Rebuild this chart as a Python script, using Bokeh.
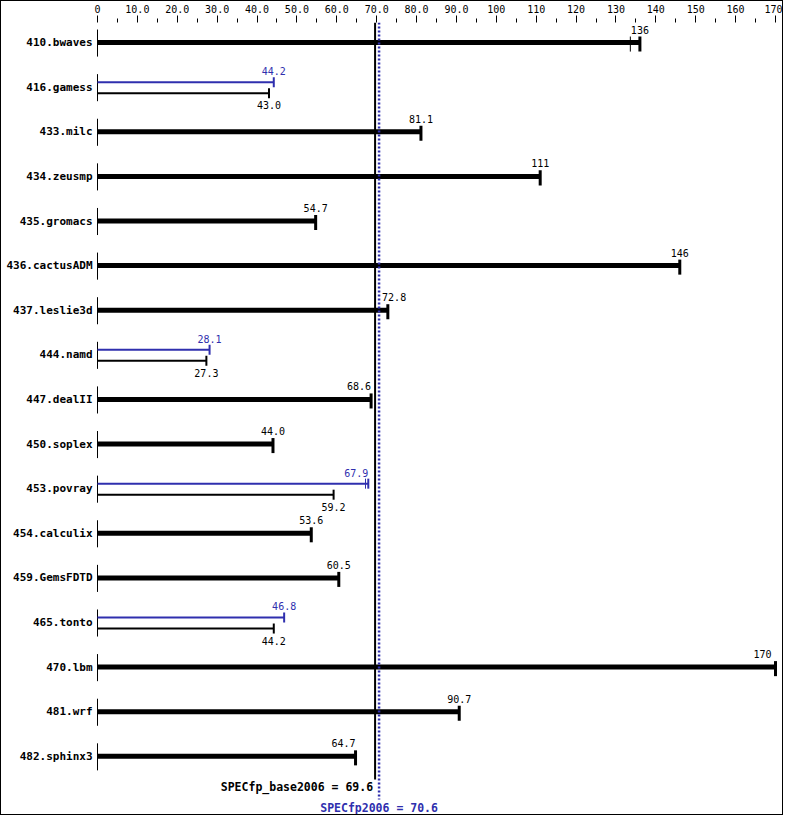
from bokeh.plotting import figure
from bokeh.models import Range1d, LinearAxis, FixedTicker, ColumnDataSource
from bokeh.core.properties import value
from bokeh.embed import file_html
from bokeh.resources import INLINE

# ---------------- data ----------------
benchmarks = ["410.bwaves", "416.gamess", "433.milc", "434.zeusmp", "435.gromacs",
              "436.cactusADM", "437.leslie3d", "444.namd", "447.dealII", "450.soplex",
              "453.povray", "454.calculix", "459.GemsFDTD", "465.tonto", "470.lbm",
              "481.wrf", "482.sphinx3"]
base_ratio = [136, 43.0, 81.1, 111, 54.7, 146, 72.8, 27.3, 68.6, 44.0,
              59.2, 53.6, 60.5, 44.2, 170, 90.7, 64.7]
peak_ratio = [136, 44.2, 81.1, 111, 54.7, 146, 72.8, 28.1, 68.6, 44.0,
              67.9, 53.6, 60.5, 46.8, 170, 90.7, 64.7]
# other (non-median) run results visible as thin ticks
extra_base_bench = ["410.bwaves"]
extra_base_val = [133.6]
extra_peak_bench = ["453.povray"]
extra_peak_val = [67.2]

base_mean = 69.6
peak_mean = 70.6
base_mean_label = "SPECfp_base2006 = 69.6"
peak_mean_label = "SPECfp2006 = 70.6"

x_ticks = list(range(0, 171, 10))
x_minor = list(range(5, 170, 10))

# ---------------- geometry ----------------
W, H = 783, 815
LEFT = 96          # pixel of x = 0
RIGHT_PAD = 9
XMAX = 170
s = (W - LEFT - RIGHT_PAD) / XMAX
ROW = 44.5         # px per row
AXIS_H = 23
FRAME_H = H - AXIS_H
top_off = 20 / ROW
y_end = -top_off
y_start = y_end + FRAME_H / ROW

BLUE = "#2f2fae"
FONT = "DejaVu Sans Mono"


def fmt(v):
    return f"{v:.0f}" if v >= 100 else f"{v:.1f}"


def px(v):
    return v / ROW


p = figure(width=W, height=H, output_backend="svg", toolbar_location=None,
           x_range=Range1d(-LEFT / s, XMAX + RIGHT_PAD / s),
           y_range=Range1d(y_start, y_end),
           x_axis_location=None, y_axis_location=None,
           min_border=0, min_border_left=0, min_border_right=0,
           min_border_top=0, min_border_bottom=0)
p.grid.visible = False
p.outline_line_color = None
p.background_fill_color = "white"
p.border_fill_color = "white"
p.styles = {"border": "1px solid black", "box-sizing": "border-box"}

axis = LinearAxis(ticker=FixedTicker(ticks=x_ticks, minor_ticks=x_minor))
axis.major_label_overrides = {t: ("0" if t == 0 else (f"{t:.1f}" if t < 100 else f"{t}"))
                              for t in x_ticks}
axis.axis_line_color = None
axis.major_tick_in = 0
axis.major_tick_out = 7
axis.minor_tick_in = 0
axis.minor_tick_out = 4
axis.major_tick_line_color = "black"
axis.minor_tick_line_color = "black"
axis.major_label_standoff = 3
axis.major_label_text_font = FONT
axis.major_label_text_font_size = "10px"
axis.major_label_text_color = "black"
p.add_layout(axis, "above")

rows = list(range(len(benchmarks)))
row_of = {b: i for i, b in enumerate(benchmarks)}

# benchmark names
p.text(x=[0] * len(rows), y=rows, text=benchmarks, x_offset=-5,
       text_align="right", text_baseline="middle",
       text_font=value(FONT), text_font_style="bold", text_font_size="11px",
       text_color="black")

# zero lines
p.segment(x0=[0] * len(rows), x1=[0] * len(rows),
          y0=[r - px(13) for r in rows], y1=[r + px(14) for r in rows],
          line_color="black", line_width=1)

single = [i for i in rows if base_ratio[i] == peak_ratio[i]]
double = [i for i in rows if base_ratio[i] != peak_ratio[i]]

# single-result rows: thick bars
sv = [base_ratio[i] for i in single]
p.segment(x0=[0] * len(single), x1=sv, y0=single, y1=single,
          line_color="black", line_width=5)
p.segment(x0=sv, x1=sv, y0=[i - px(6) for i in single], y1=[i + px(9) for i in single],
          line_color="black", line_width=3)

# label placement for single rows
lx, ly, lt, la, lo = [], [], [], [], []
for i in single:
    v = base_ratio[i]
    if v >= XMAX - 2:
        lx.append(v); la.append("right"); lo.append(-4)
    elif base_mean - 6 < v <= base_mean:
        lx.append(v); la.append("right"); lo.append(0)
    elif peak_mean <= v < peak_mean + 6:
        lx.append(peak_mean); la.append("left"); lo.append(3)
    else:
        lx.append(v); la.append("center"); lo.append(0)
    ly.append(i - px(13))
    lt.append(fmt(v))
p.text(x="x", y="y", text="t", text_align="a", x_offset="o",
       source=ColumnDataSource(dict(x=lx, y=ly, t=lt, a=la, o=lo)),
       text_baseline="middle", text_font=value(FONT), text_font_size="10px",
       text_color="black")

# double rows: peak (blue, above) and base (black, below)
pv = [peak_ratio[i] for i in double]
bv = [base_ratio[i] for i in double]
py_ = [i - px(5) for i in double]
by_ = [i + px(6) for i in double]
p.segment(x0=[0] * len(double), x1=pv, y0=py_, y1=py_, line_color=BLUE, line_width=2)
p.segment(x0=pv, x1=pv, y0=[y - px(5) for y in py_], y1=[y + px(5) for y in py_],
          line_color=BLUE, line_width=2)
p.segment(x0=[0] * len(double), x1=bv, y0=by_, y1=by_, line_color="black", line_width=2)
p.segment(x0=bv, x1=bv, y0=[y - px(5) for y in by_], y1=[y + px(5) for y in by_],
          line_color="black", line_width=2)

pa, po, px_ = [], [], []
for v in pv:
    if base_mean - 6 < v <= base_mean:
        pa.append("right"); px_.append(v); po.append(0)
    else:
        pa.append("center"); px_.append(v); po.append(0)
p.text(x="x", y="y", text="t", text_align="a", x_offset="o",
       source=ColumnDataSource(dict(x=px_, y=[i - px(16) for i in double],
                                    t=[fmt(v) for v in pv], a=pa, o=po)),
       text_baseline="middle", text_font=value(FONT), text_font_size="10px",
       text_color=BLUE)
p.text(x=bv, y=[i + px(18) for i in double], text=[fmt(v) for v in bv],
       text_align="center", text_baseline="middle", text_font=value(FONT),
       text_font_size="10px", text_color="black")

# extra run ticks
eb_y = [row_of[b] for b in extra_base_bench]
p.segment(x0=extra_base_val, x1=extra_base_val, y0=[y - px(6) for y in eb_y],
          y1=[y + px(9) for y in eb_y], line_color="black", line_width=1)
ep_y = [row_of[b] - px(5) for b in extra_peak_bench]
p.segment(x0=extra_peak_val, x1=extra_peak_val, y0=[y - px(5) for y in ep_y],
          y1=[y + px(5) for y in ep_y], line_color=BLUE, line_width=1)

# mean lines
last = len(benchmarks) - 1
p.segment(x0=[base_mean], x1=[base_mean], y0=[y_end], y1=[last + px(23)],
          line_color="black", line_width=2)
p.segment(x0=[peak_mean], x1=[peak_mean], y0=[y_end], y1=[last + px(43)],
          line_color=BLUE, line_width=2.5, line_dash="2 2")

p.text(x=[base_mean], y=[last + px(31)], text=[base_mean_label], x_offset=-2,
       text_align="right", text_baseline="middle", text_font=value(FONT),
       text_font_style="bold", text_font_size="11.5px", text_color="black")
p.text(x=[peak_mean], y=[last + px(52)], text=[peak_mean_label],
       text_align="center", text_baseline="middle", text_font=value(FONT),
       text_font_style="bold", text_font_size="11.5px", text_color=BLUE)

open("out.html", "w").write(file_html(p, INLINE))
